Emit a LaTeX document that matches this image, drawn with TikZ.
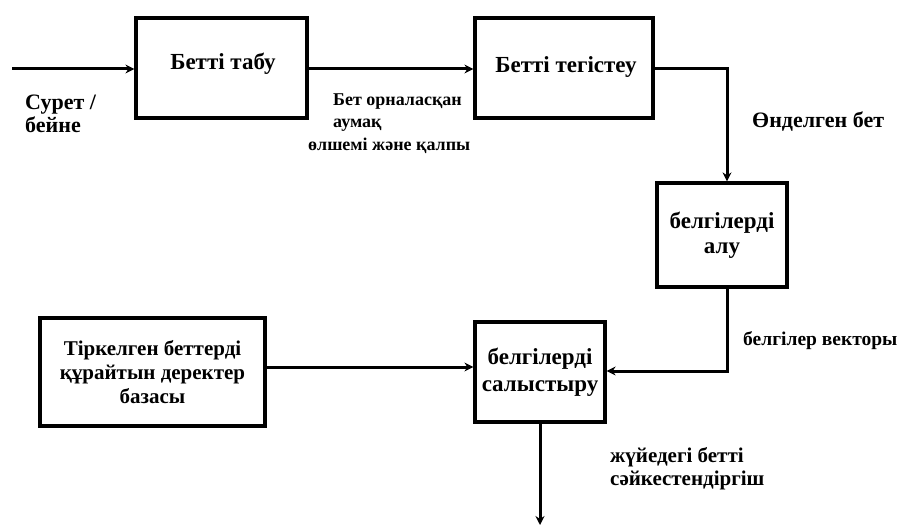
\documentclass[tikz,border=0pt]{standalone}
\usepackage{fontspec}
\setmainfont{Liberation Serif}
\usetikzlibrary{arrows.meta,calc}
\begin{document}
\begin{tikzpicture}[x=1pt,y=-1pt,
  blk/.style={draw=black,line width=3.2pt,fill=white,inner sep=1pt,align=center,font=\bfseries\fontsize{23}{25}\selectfont},
  conn/.style={line width=3pt,-{Stealth[length=9pt,width=9pt]}},
  lbl/.style={inner sep=0pt,anchor=base west},
  small/.style={font=\bfseries\fontsize{18}{20}\selectfont},
  mid/.style={font=\bfseries\fontsize{21}{23}\selectfont},
  big/.style={font=\bfseries\fontsize{22}{24}\selectfont}]
\useasboundingbox (0,0) rectangle (900,527);
\node[blk,minimum width=171pt,minimum height=100pt] (b1) at (221.5,68) {};
\node[blk,minimum width=178pt,minimum height=100pt] (b2) at (564,68) {};
\node[blk,minimum width=130pt,minimum height=104pt] (b3) at (722,235) {белгілерді\\алу};
\node[blk,minimum width=130pt,minimum height=100pt,font=\bfseries\fontsize{23}{27}\selectfont] (b4) at (540,372) {белгілерді\\салыстыру};
\node[blk,minimum width=225pt,minimum height=108pt,font=\bfseries\fontsize{21}{24}\selectfont] (b5) at (152.5,372) {Тіркелген беттерді\\құрайтын деректер\\базасы};
\node[font=\bfseries\fontsize{23}{25}\selectfont,inner sep=0pt] (t1) at (223,64) {Бетті табу};
\node[font=\bfseries\fontsize{23}{25}\selectfont,inner sep=0pt] (t2) at (566,67) {Бетті тегістеу};
\coordinate (in) at (12,69);
\coordinate (v) at (727,0);
\coordinate (out) at (540,525);
\draw[conn] (in) -- (in -| b1.west);
\draw[conn] (b1.east |- in) -- (b2.west |- in);
\draw[conn] (b2.east |- in) -| (v |- b3.north);
\draw[conn] (v |- b3.south) |- ($(b4.east)+(0,-1)$);
\draw[conn] ($(b5.east)+(0,-5)$) -- ($(b4.west)+(0,-5)$);
\draw[conn] (b4.south) -- (out);
\node[lbl,big] (l1a) at (25,110) {Сурет /};
\node[lbl,big] (l1b) at (25,132) {бейне};
\node[lbl,small] (l2) at (333,105) {Бет орналасқан};
\node[lbl,small] (l3) at (333,127) {аумақ};
\node[lbl,small] (l4) at (308,150) {өлшемі және қалпы};
\node[lbl,big] (l5) at (752,128) {Өнделген бет};
\node[lbl,font=\bfseries\fontsize{19.5}{22}\selectfont] (l6) at (743,345) {белгілер векторы};
\node[lbl,mid] (l7a) at (610,462) {жүйедегі бетті};
\node[lbl,mid] (l7b) at (610,485) {сәйкестендіргіш};
\end{tikzpicture}
\end{document}
